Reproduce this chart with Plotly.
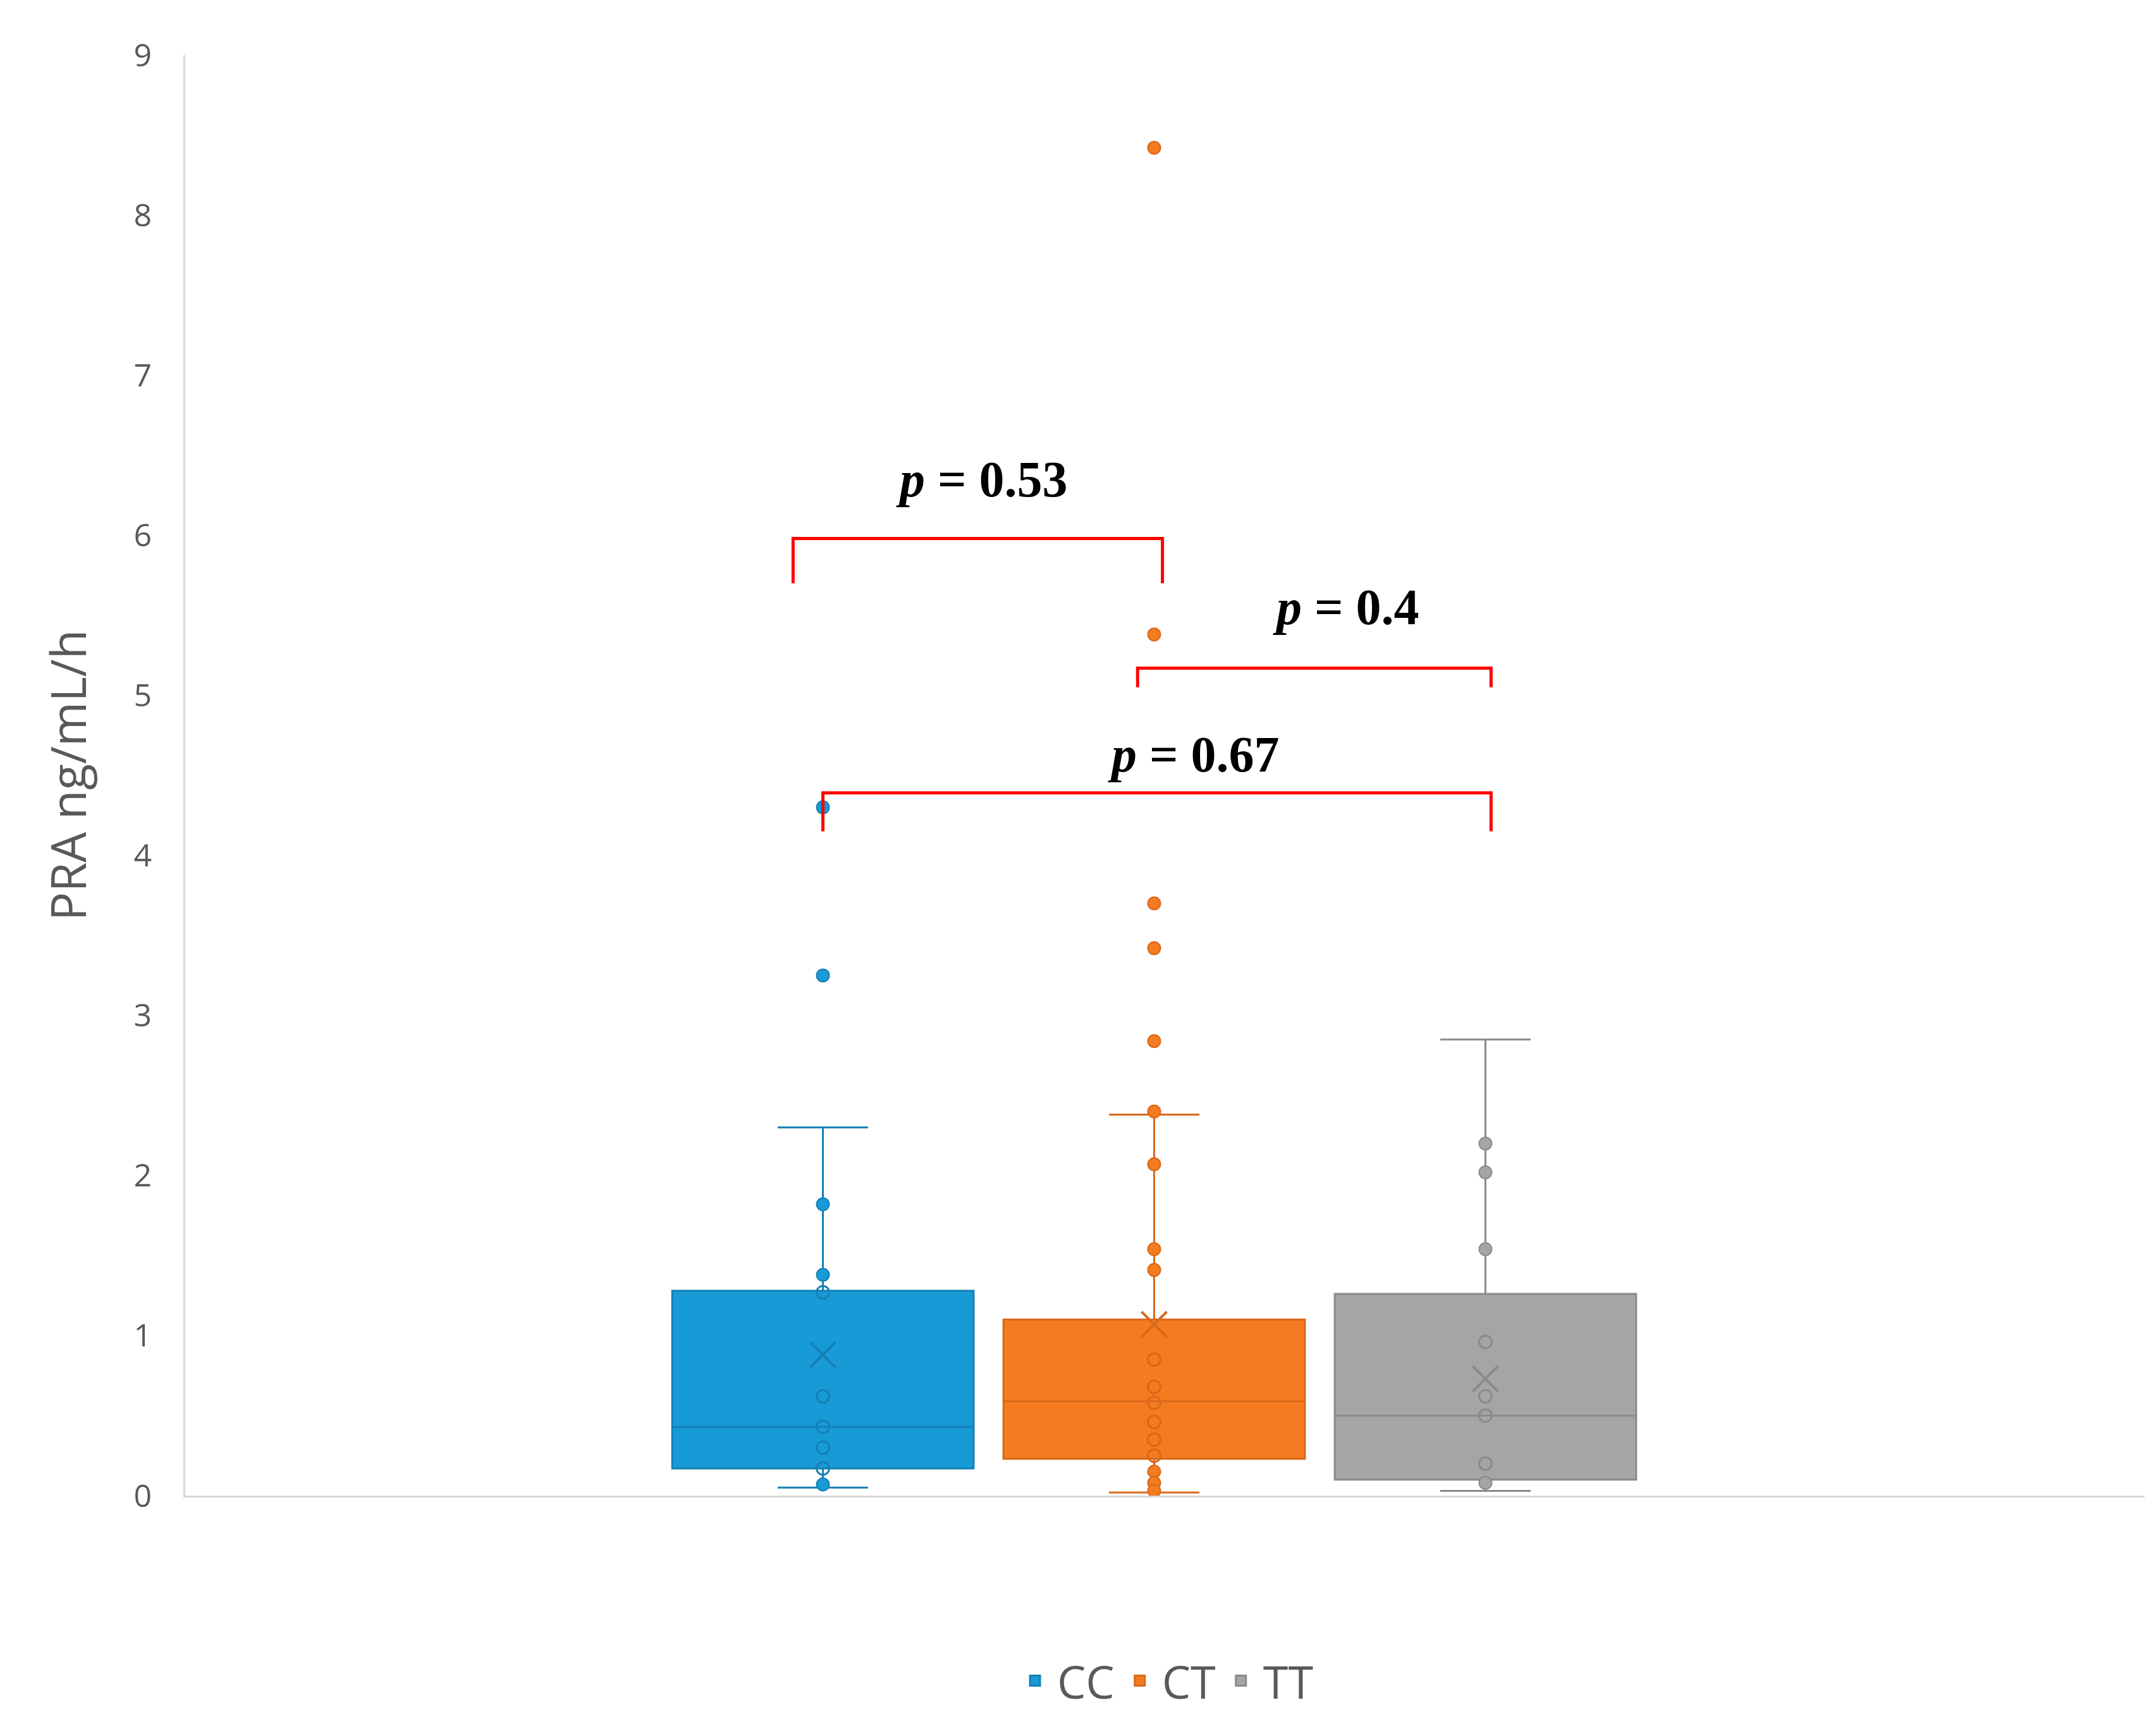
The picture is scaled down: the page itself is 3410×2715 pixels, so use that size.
import plotly.graph_objects as go

groups = ["CC", "CT", "TT"]
colors = ["#189ad6", "#f47b20", "#a5a5a5"]
dark = ["#1480b5", "#d9681a", "#8a8a8a"]
q1 = [0.17, 0.23, 0.10]
med = [0.43, 0.59, 0.50]
q3 = [1.28, 1.10, 1.26]
lo = [0.05, 0.02, 0.03]
hi = [2.30, 2.38, 2.85]
means = [0.88, 1.07, 0.73]
points = [
    [4.30, 3.25, 1.82, 1.38, 1.27, 0.62, 0.43, 0.30, 0.17, 0.07],
    [8.42, 5.38, 3.70, 3.42, 2.84, 2.40, 2.07, 1.54, 1.41, 0.85, 0.68, 0.58, 0.46, 0.35, 0.25, 0.15, 0.08, 0.03],
    [2.20, 2.02, 1.54, 0.96, 0.62, 0.50, 0.20, 0.08],
]
brackets = [  # x0, x1, top, end, label, label x, label y
    (-0.09, 1.025, 5.98, 5.70, "0.53", 0.48, 6.35),
    (0.95, 2.017, 5.17, 5.05, "0.4", 1.58, 5.55),
    (0.0, 2.017, 4.39, 4.15, "0.67", 1.12, 4.63),
]

fig = go.Figure()
for i, g in enumerate(groups):
    fig.add_trace(go.Box(x=[i], q1=[q1[i]], median=[med[i]], q3=[q3[i]],
                         lowerfence=[lo[i]], upperfence=[hi[i]], name=g,
                         fillcolor=colors[i], line=dict(color=dark[i], width=3),
                         width=0.91, whiskerwidth=0.3, boxpoints=False, showlegend=False))
    inside = [p for p in points[i] if q1[i] <= p <= q3[i]]
    outside = [p for p in points[i] if not (q1[i] <= p <= q3[i])]
    fig.add_trace(go.Scatter(x=[i] * len(outside), y=outside, mode="markers",
                             marker=dict(color=colors[i], size=20, line=dict(color=dark[i], width=2)),
                             showlegend=False, hoverinfo="y"))
    fig.add_trace(go.Scatter(x=[i] * len(inside), y=inside, mode="markers",
                             marker=dict(symbol="circle-open", color=dark[i], size=20, line=dict(width=3)),
                             showlegend=False, hoverinfo="y"))
    fig.add_trace(go.Scatter(x=[i], y=[means[i]], mode="markers",
                             marker=dict(symbol="x-thin-open", color=dark[i], size=40, line=dict(width=4, color=dark[i])),
                             showlegend=False, hoverinfo="y"))
    fig.add_trace(go.Scatter(x=[None], y=[None], mode="markers", name=g,
                             marker=dict(symbol="square", size=60, color=colors[i],
                                         line=dict(color=dark[i], width=3))))

for x0, x1, top, end, lab, lx, ly in brackets:
    fig.add_shape(type="path", xref="x", yref="y",
                  path=f"M {x0},{end} L {x0},{top} L {x1},{top} L {x1},{end}",
                  line=dict(color="#ff0000", width=5))
    fig.add_annotation(x=lx, y=ly, text=f"<b><i>p</i> = {lab}</b>", showarrow=False,
                       font=dict(family="Liberation Serif", size=80, color="black"))

fig.update_layout(
    width=3410, height=2715, plot_bgcolor="white", paper_bgcolor="white",
    margin=dict(l=285, r=26, t=79, b=358),
    font=dict(family="Open Sans", color="#595959"),
    xaxis=dict(range=[-1.925, 3.99], showticklabels=False, showgrid=False, zeroline=False,
               showline=True, linecolor="#d9d9d9", linewidth=3),
    yaxis=dict(range=[0, 9], dtick=1, showgrid=False, zeroline=False, showline=True,
               linecolor="#d9d9d9", linewidth=3, tickfont=dict(size=50),
               title=dict(text="PRA ng/mL/h", font=dict(size=76), standoff=50),
               ticks="outside", tickcolor="rgba(0,0,0,0)", ticklen=40),
    legend=dict(orientation="h", x=0.5, xanchor="center", y=-0.105, yanchor="top",
                font=dict(size=72), itemwidth=60),
)
fig.write_html("out.html")
